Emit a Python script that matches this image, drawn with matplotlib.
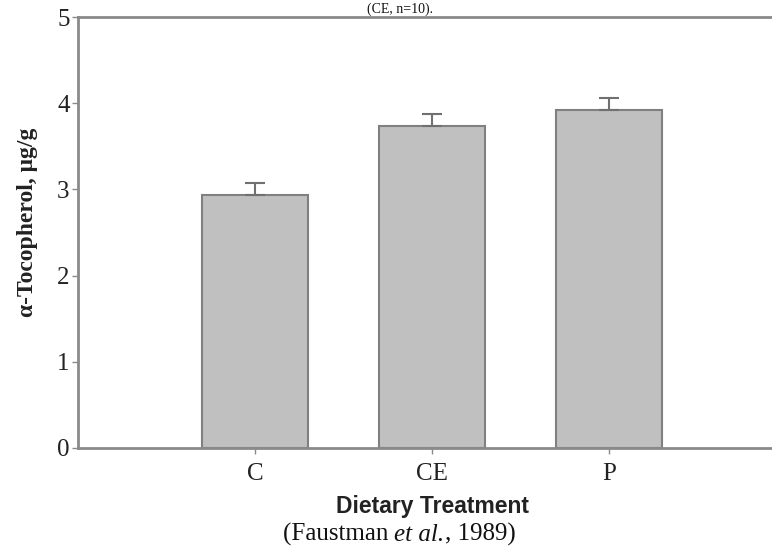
import matplotlib
matplotlib.use("Agg")
import matplotlib.pyplot as plt
import numpy as np

categories = ["C", "CE", "P"]
values = [2.93, 3.74, 3.92]
errors = [0.14, 0.14, 0.14]
yticks = [0, 1, 2, 3, 4, 5]

fig = plt.figure(figsize=(7.72, 5.48), dpi=100)
ax = fig.add_axes([78/772, 100/548, 1 - 78/772, 431/548])

x = np.arange(1, len(categories) + 1)
ax.bar(x, values, width=0.6, color="#c0c0c0", edgecolor="#808080", linewidth=1.5, zorder=2)
ax.errorbar(x, values, yerr=[np.zeros(len(values)), errors], fmt="none",
            ecolor="#707070", elinewidth=1.5, capsize=7, capthick=1.5, zorder=3)

ax.set_xlim(0, 3.92)
ax.set_ylim(0, 5)
ax.set_yticks(yticks)
ax.set_xticks(x)
ax.set_xticklabels(categories)

for s in ["left", "bottom", "top"]:
    ax.spines[s].set_color("#8a8a8a")
    ax.spines[s].set_linewidth(2)
ax.spines["right"].set_visible(False)
ax.tick_params(axis="both", colors="#8a8a8a", length=4, width=1, labelcolor="#222222",
               labelsize=18)
ax.tick_params(axis="y", pad=2)
ax.tick_params(axis="x", pad=7)
for lab in ax.get_xticklabels() + ax.get_yticklabels():
    lab.set_fontfamily("Liberation Serif")

ax.set_ylabel("α-Tocopherol, μg/g", fontfamily="Liberation Serif", fontweight="bold",
              fontsize=17, color="#222222")
ax.yaxis.set_label_coords((38 - 78) / 694, (448 - 222) / 431)
ax.set_xlabel("Dietary Treatment", fontfamily="Liberation Sans", fontweight="bold",
              fontsize=16.5, color="#222222")
ax.xaxis.set_label_coords((433 - 78) / 694, (448 - 507) / 431)
ax.xaxis.label.set_va("center")

# citation with italic "et al."
renderer = fig.canvas.get_renderer()
parts = [("(Faustman ", "normal"), ("et al.", "italic"), (", 1989)", "normal")]
objs = []
for txt, style in parts:
    t = fig.text(0, 1 - 541/548, txt, ha="left", va="baseline", fontfamily="Liberation Serif",
                 fontstyle=style, fontsize=18, color="#111111")
    objs.append(t)
widths = [o.get_window_extent(renderer).width for o in objs]
total = sum(widths)
start = 399 - total / 2
for o, w in zip(objs, widths):
    o.set_x(start / 772)
    start += w

fig.text(400/772, 1 - 13/548, "(CE, n=10).", ha="center", va="baseline",
         fontfamily="Liberation Serif", fontsize=10, color="#111111")

fig.savefig("out.png", dpi=100)
